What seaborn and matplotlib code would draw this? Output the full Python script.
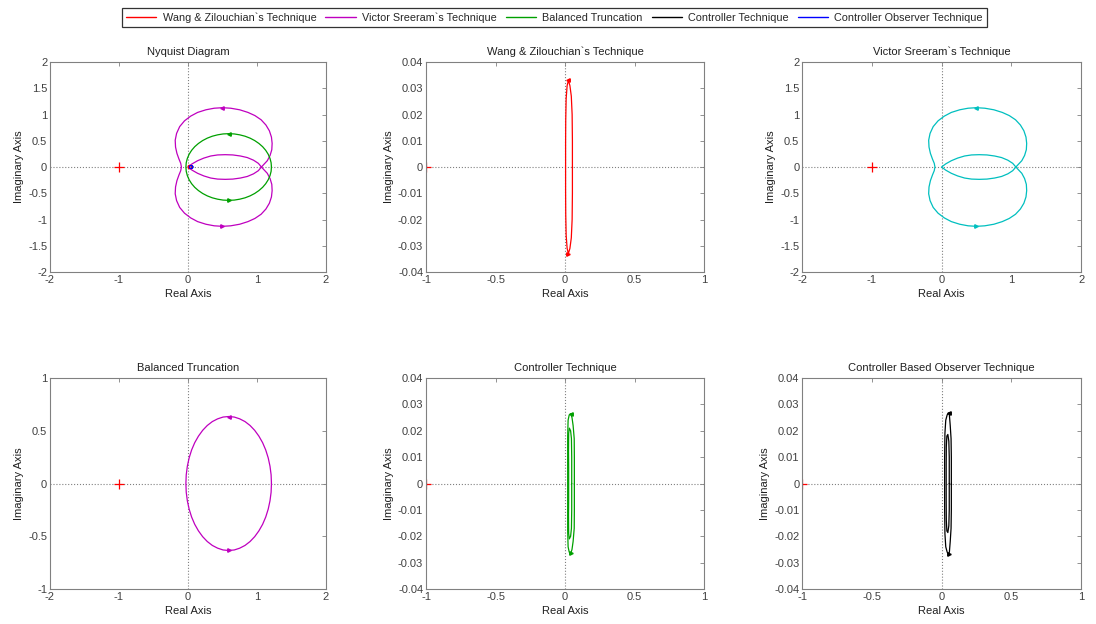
import numpy as np
import matplotlib
matplotlib.use("Agg")
import matplotlib.pyplot as plt
import seaborn as sns

# Nyquist responses, positive-frequency half (real, imag); the negative
# frequency half is the complex conjugate, drawn as in a standard Nyquist plot.
victor_outer_re = [1.065, 1.10, 1.15, 1.19, 1.215, 1.22, 1.21, 1.18, 1.13, 1.06, 0.97, 0.87, 0.75,
                   0.62, 0.50, 0.38, 0.26, 0.14, 0.04, -0.05, -0.12, -0.165, -0.185, -0.18, -0.16,
                   -0.13, -0.105, -0.095]
victor_outer_im = [0.0, 0.05, 0.12, 0.22, 0.33, 0.45, 0.57, 0.69, 0.80, 0.90, 0.98, 1.04, 1.09,
                   1.12, 1.13, 1.12, 1.09, 1.04, 0.97, 0.88, 0.77, 0.64, 0.51, 0.38, 0.26,
                   0.15, 0.07, 0.0]
victor_inner_re = [1.065, 1.02, 0.95, 0.86, 0.76, 0.65, 0.54, 0.43, 0.33, 0.23, 0.14, 0.06, 0.0]
victor_inner_im = [0.0, 0.07, 0.13, 0.18, 0.21, 0.23, 0.235, 0.23, 0.21, 0.17, 0.12, 0.06, 0.0]

balanced_re = [1.21, 1.205, 1.189, 1.163, 1.127, 1.082, 1.028, 0.967, 0.90, 0.827, 0.75, 0.671,
               0.59, 0.509, 0.43, 0.353, 0.28, 0.213, 0.152, 0.098, 0.053, 0.017, -0.009,
               -0.025, -0.03]
balanced_im = [0.0, 0.083, 0.164, 0.243, 0.318, 0.387, 0.449, 0.504, 0.55, 0.587, 0.613, 0.630,
               0.635, 0.630, 0.613, 0.587, 0.55, 0.504, 0.449, 0.387, 0.318, 0.243, 0.164,
               0.083, 0.0]

wang_re = [0.053, 0.053, 0.051, 0.045, 0.035, 0.024, 0.015, 0.008, 0.005, 0.004, 0.004]
wang_im = [0.0, 0.010, 0.020, 0.027, 0.031, 0.033, 0.031, 0.026, 0.018, 0.009, 0.0]

ctrl_outer_re = [0.067, 0.067, 0.066, 0.058, 0.050, 0.041, 0.030, 0.022, 0.019, 0.019, 0.019]
ctrl_outer_im = [0.0, 0.010, 0.017, 0.022, 0.025, 0.0265, 0.026, 0.024, 0.018, 0.008, 0.0]
ctrl_inner_re = [0.048, 0.048, 0.046, 0.040, 0.031, 0.026, 0.025, 0.026, 0.026]
ctrl_inner_im = [0.0, 0.010, 0.017, 0.020, 0.021, 0.019, 0.012, 0.006, 0.0]

obs_outer_re = [0.070, 0.070, 0.068, 0.062, 0.056, 0.050, 0.040, 0.030, 0.024, 0.022, 0.022]
obs_outer_im = [0.0, 0.010, 0.017, 0.022, 0.026, 0.0268, 0.026, 0.024, 0.019, 0.010, 0.0]
obs_inner_re = [0.055, 0.055, 0.052, 0.045, 0.038, 0.034, 0.033, 0.033]
obs_inner_im = [0.0, 0.010, 0.016, 0.0186, 0.018, 0.014, 0.007, 0.0]

critical_point = (-1.0, 0.0)

legend_labels = ["Wang & Zilouchian`s Technique", "Victor Sreeram`s Technique",
                 "Balanced Truncation", "Controller Technique", "Controller Observer Technique"]
titles = ["Nyquist Diagram", "Wang & Zilouchian`s Technique", "Victor Sreeram`s Technique",
          "Balanced Truncation", "Controller Technique", "Controller Based Observer Technique"]

wide_ticks = [-2, -1, 0, 1, 2]
wide_ticklabels = ["-2", "-1", "0", "1", "2"]
narrow_ticks = [-1, -0.5, 0, 0.5, 1]
narrow_ticklabels = ["-1", "-0.5", "0", "0.5", "1"]
big_yticks = [-2, -1.5, -1, -0.5, 0, 0.5, 1, 1.5, 2]
big_yticklabels = ["-2", "-1.5", "-1", "-0.5", "0", "0.5", "1", "1.5", "2"]
unit_yticks = [-1, -0.5, 0, 0.5, 1]
unit_yticklabels = ["-1", "-0.5", "0", "0.5", "1"]
small_yticks = [-0.04, -0.03, -0.02, -0.01, 0, 0.01, 0.02, 0.03, 0.04]
small_yticklabels = ["-0.04", "-0.03", "-0.02", "-0.01", "0", "0.01", "0.02", "0.03", "0.04"]

RED = "#ff0000"
MAGENTA = "#bf00bf"
GREEN = "#00a000"
BLACK = "#000000"
BLUE = "#0000ff"
CYAN = "#00bfbf"

sns.set_style("white")
plt.rcParams["font.family"] = ["Liberation Sans", "DejaVu Sans"]
plt.rcParams["font.size"] = 8
plt.rcParams["axes.edgecolor"] = "#808080"
plt.rcParams["axes.linewidth"] = 0.8
plt.rcParams["xtick.color"] = "#808080"
plt.rcParams["ytick.color"] = "#808080"
plt.rcParams["xtick.labelcolor"] = "#404040"
plt.rcParams["ytick.labelcolor"] = "#404040"


def full_curve(re, im):
    re = np.asarray(re, float)
    im = np.asarray(im, float)
    return np.concatenate([re, re[::-1]]), np.concatenate([im, -im[::-1]])


def draw_curve(ax, re, im, color, label=None, arrows=True):
    x, y = full_curve(re, im)
    sns.lineplot(x=x, y=y, sort=False, estimator=None, color=color, lw=0.9,
                 ax=ax, label=label, legend=False)
    if arrows:
        k = int(np.argmax(im))
        ax.plot(re[k], im[k], marker="<", color=color, ms=2.5, lw=0)
        ax.plot(re[k], -im[k], marker=">", color=color, ms=2.5, lw=0)


def style_axes(ax, title, xlim, xt, xtl, ylim, yt, ytl):
    ax.axhline(0, color="#808080", ls=":", lw=0.8, zorder=0)
    ax.axvline(0, color="#808080", ls=":", lw=0.8, zorder=0)
    ax.plot(*critical_point, marker="+", color=RED, ms=7, mew=0.9, lw=0)
    ax.set_xlim(*xlim)
    ax.set_ylim(*ylim)
    ax.set_xticks(xt)
    ax.set_xticklabels(xtl)
    ax.set_yticks(yt)
    ax.set_yticklabels(ytl)
    ax.tick_params(direction="in", length=3, width=0.6, top=True, right=True,
                   labelsize=8, pad=2)
    ax.set_title(title, fontsize=8, color="#202020", pad=5)
    ax.set_xlabel("Real Axis", fontsize=8, color="#202020", labelpad=3)
    ax.set_ylabel("Imaginary Axis", fontsize=8, color="#202020", labelpad=3)
    for s in ax.spines.values():
        s.set_visible(True)


fig = plt.figure(figsize=(10.96, 6.24), dpi=100)
cols = [(0.0456, 0.2518), (0.3887, 0.2537), (0.7318, 0.2546)]
rows = [(0.5641, 0.3365), (0.0561, 0.3381)]
axes = [[fig.add_axes([c[0], r[0], c[1], r[1]]) for c in cols] for r in rows]

# Combined diagram
ax = axes[0][0]
draw_curve(ax, victor_outer_re, victor_outer_im, MAGENTA)
draw_curve(ax, victor_inner_re, victor_inner_im, MAGENTA, arrows=False)
draw_curve(ax, balanced_re, balanced_im, GREEN)
draw_curve(ax, ctrl_outer_re, ctrl_outer_im, BLACK, arrows=False)
draw_curve(ax, wang_re, wang_im, RED, arrows=False)
draw_curve(ax, obs_outer_re, obs_outer_im, BLUE, arrows=False)
style_axes(ax, titles[0], (-2, 2), wide_ticks, wide_ticklabels, (-2, 2), big_yticks, big_yticklabels)

ax = axes[0][1]
draw_curve(ax, wang_re, wang_im, RED)
style_axes(ax, titles[1], (-1, 1), narrow_ticks, narrow_ticklabels, (-0.04, 0.04), small_yticks, small_yticklabels)

ax = axes[0][2]
draw_curve(ax, victor_outer_re, victor_outer_im, CYAN)
draw_curve(ax, victor_inner_re, victor_inner_im, CYAN, arrows=False)
style_axes(ax, titles[2], (-2, 2), wide_ticks, wide_ticklabels, (-2, 2), big_yticks, big_yticklabels)

ax = axes[1][0]
draw_curve(ax, balanced_re, balanced_im, MAGENTA)
style_axes(ax, titles[3], (-2, 2), wide_ticks, wide_ticklabels, (-1, 1), unit_yticks, unit_yticklabels)

ax = axes[1][1]
draw_curve(ax, ctrl_outer_re, ctrl_outer_im, GREEN)
draw_curve(ax, ctrl_inner_re, ctrl_inner_im, GREEN, arrows=False)
style_axes(ax, titles[4], (-1, 1), narrow_ticks, narrow_ticklabels, (-0.04, 0.04), small_yticks, small_yticklabels)

ax = axes[1][2]
draw_curve(ax, obs_outer_re, obs_outer_im, BLACK)
draw_curve(ax, obs_inner_re, obs_inner_im, BLACK, arrows=False)
style_axes(ax, titles[5], (-1, 1), narrow_ticks, narrow_ticklabels, (-0.04, 0.04), small_yticks, small_yticklabels)

# Shared legend across the top
handles = [plt.Line2D([], [], color=c, lw=1) for c in [RED, MAGENTA, GREEN, BLACK, BLUE]]
leg = fig.legend(handles, legend_labels, loc="upper center", ncol=5,
                 bbox_to_anchor=(0.506, 0.996), frameon=True, fancybox=False,
                 fontsize=7.8, handlelength=2.8, handletextpad=0.6, columnspacing=0.8,
                 borderpad=0.4, edgecolor="black")
leg.get_frame().set_linewidth(0.9)

fig.savefig("out.png", dpi=100)
